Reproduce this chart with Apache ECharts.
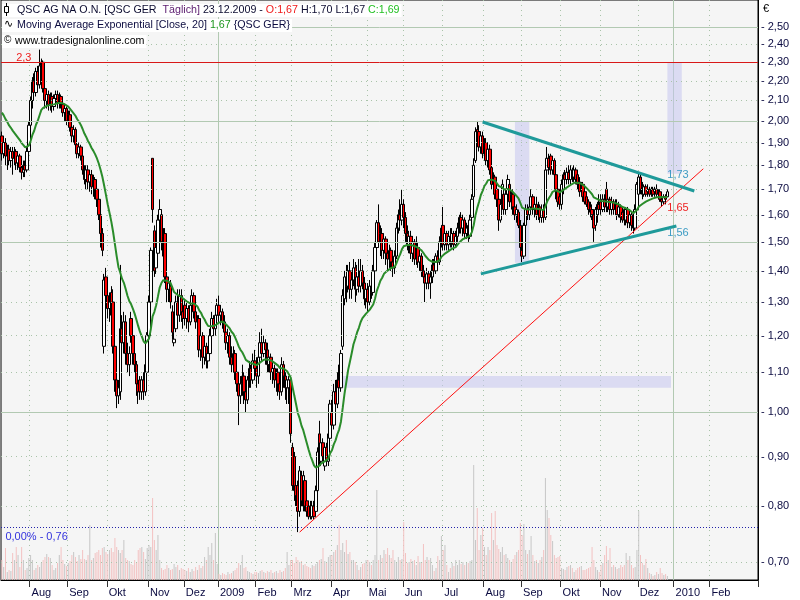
<!DOCTYPE html>
<html><head><meta charset="utf-8">
<script src="https://cdn.jsdelivr.net/npm/echarts@6/dist/echarts.min.js"></script>
<style>html,body{margin:0;padding:0;background:#fff}#c{width:800px;height:600px}</style>
</head><body><div id="c"></div>
<script>
// ---- Daily candles [open, close, low, high] (QSC AG, Xetra) ----
const jul08=[[1.93,1.85,1.82,1.95],[1.85,1.90,1.83,1.93],[1.90,1.84,1.80,1.92],[1.84,1.87,1.78,1.89],[1.87,1.82,1.80,1.89],[1.82,1.86,1.79,1.88],[1.86,1.83,1.76,1.88],[1.83,1.86,1.80,1.88],[1.86,1.81,1.78,1.87],[1.81,1.84,1.78,1.86],[1.84,1.79,1.77,1.85],[1.79,1.77,1.74,1.81],[1.77,1.80,1.75,1.82],[1.80,1.78,1.75,1.82],[1.78,1.86,1.77,1.88],[1.86,1.98,1.85,2.00]];
const aug08=[[1.98,2.10,1.96,2.12],[2.10,2.20,2.06,2.22],[2.20,2.14,2.10,2.24],[2.14,2.25,2.12,2.27],[2.25,2.18,2.15,2.28],[2.18,2.28,2.16,2.37],[2.28,2.30,2.22,2.32],[2.30,2.16,2.14,2.31],[2.16,2.10,2.06,2.18],[2.10,2.13,2.06,2.15],[2.13,2.08,2.05,2.15],[2.08,2.12,2.05,2.14],[2.12,2.07,2.04,2.14],[2.07,2.11,2.05,2.13],[2.11,2.13,2.07,2.15],[2.13,2.09,2.06,2.15],[2.09,2.12,2.06,2.14],[2.12,2.08,2.06,2.13],[2.08,2.04,2.02,2.10],[2.04,2.06,2.00,2.08],[2.06,2.00,1.98,2.07]];
const sep08=[[2.00,2.03,1.97,2.05],[2.03,1.97,1.95,2.05],[1.97,1.93,1.90,2.00],[1.93,1.96,1.90,1.98],[1.96,1.89,1.87,1.97],[1.89,1.85,1.83,1.91],[1.85,1.88,1.83,1.90],[1.88,1.84,1.82,1.89],[1.84,1.78,1.76,1.85],[1.78,1.74,1.72,1.80],[1.74,1.78,1.70,1.80],[1.78,1.73,1.70,1.80],[1.73,1.76,1.69,1.78],[1.76,1.71,1.68,1.78],[1.71,1.74,1.67,1.76],[1.74,1.70,1.66,1.75],[1.70,1.66,1.63,1.72],[1.66,1.60,1.58,1.68],[1.60,1.53,1.48,1.62],[1.53,1.47,1.45,1.55],[1.17,1.37,1.15,1.39],[1.38,1.32,1.30,1.41]];
const oct08=[[1.32,1.28,1.25,1.34],[1.28,1.30,1.24,1.33],[1.33,1.26,1.22,1.35],[1.30,1.17,1.15,1.34],[1.17,1.08,1.05,1.19],[1.08,1.04,1.01,1.10],[1.04,1.06,1.02,1.08],[1.05,1.22,1.03,1.42],[1.22,1.18,1.14,1.26],[1.18,1.24,1.15,1.27],[1.24,1.15,1.12,1.26],[1.15,1.12,1.10,1.18],[1.12,1.15,1.09,1.17],[1.25,1.20,1.18,1.27],[1.20,1.15,1.12,1.21],[1.15,1.12,1.10,1.17],[1.12,1.07,1.04,1.13],[1.07,1.05,1.02,1.09],[1.08,1.05,1.03,1.09],[1.05,1.08,1.03,1.09],[1.08,1.05,1.03,1.10],[1.05,1.12,1.04,1.14],[1.10,1.20,1.09,1.21]];
const nov08=[[1.20,1.30,1.18,1.32],[1.30,1.47,1.28,1.48],[1.83,1.62,1.57,1.83],[1.54,1.40,1.38,1.56],[1.41,1.48,1.39,1.50],[1.46,1.58,1.44,1.60],[1.58,1.62,1.54,1.66],[1.60,1.50,1.47,1.62],[1.52,1.45,1.43,1.55],[1.53,1.38,1.36,1.55],[1.38,1.34,1.30,1.44],[1.34,1.36,1.30,1.38],[1.35,1.30,1.28,1.37],[1.27,1.21,1.19,1.29],[1.18,1.19,1.17,1.21],[1.22,1.30,1.21,1.32],[1.30,1.26,1.24,1.34],[1.26,1.32,1.24,1.34],[1.32,1.27,1.24,1.34],[1.27,1.25,1.22,1.29]];
const dec08=[[1.29,1.25,1.23,1.31],[1.25,1.28,1.22,1.30],[1.28,1.24,1.21,1.29],[1.24,1.29,1.23,1.32],[1.29,1.32,1.27,1.34],[1.32,1.27,1.25,1.33],[1.27,1.24,1.22,1.29],[1.24,1.25,1.21,1.26],[1.25,1.16,1.14,1.26],[1.16,1.20,1.13,1.22],[1.20,1.14,1.11,1.21],[1.14,1.17,1.12,1.19],[1.17,1.13,1.11,1.18],[1.13,1.15,1.11,1.17],[1.15,1.20,1.14,1.22],[1.20,1.25,1.19,1.27],[1.25,1.22,1.20,1.26],[1.22,1.26,1.20,1.28],[1.26,1.29,1.24,1.31]];
const jan09=[[1.29,1.26,1.24,1.32],[1.26,1.27,1.23,1.29],[1.27,1.24,1.22,1.28],[1.24,1.21,1.19,1.26],[1.21,1.18,1.16,1.23],[1.18,1.20,1.15,1.22],[1.20,1.14,1.12,1.21],[1.14,1.12,1.10,1.17],[1.12,1.15,1.10,1.17],[1.15,1.10,1.08,1.16],[1.10,1.07,1.05,1.12],[1.07,1.04,0.97,1.09],[1.04,1.07,1.02,1.09],[1.07,1.09,1.04,1.12],[1.09,1.05,1.02,1.10],[1.05,1.03,1.00,1.07],[1.03,1.08,1.02,1.09],[1.08,1.11,1.06,1.13],[1.11,1.08,1.06,1.12],[1.08,1.13,1.07,1.15],[1.13,1.11,1.09,1.16]];
const feb09=[[1.11,1.09,1.06,1.14],[1.09,1.14,1.07,1.16],[1.14,1.18,1.12,1.21],[1.18,1.15,1.13,1.22],[1.15,1.18,1.14,1.20],[1.18,1.16,1.12,1.19],[1.16,1.12,1.10,1.18],[1.12,1.14,1.10,1.16],[1.14,1.10,1.08,1.15],[1.10,1.11,1.07,1.13],[1.11,1.08,1.06,1.12],[1.08,1.10,1.05,1.11],[1.10,1.07,1.04,1.11],[1.07,1.05,1.03,1.09],[1.05,1.12,1.04,1.14],[1.12,1.09,1.06,1.13],[1.09,1.06,1.03,1.10],[1.06,1.08,1.02,1.09],[1.06,1.08,1.02,1.09],[1.08,0.95,0.93,1.09]];
const mar09=[[0.92,0.84,0.83,0.93],[0.90,0.83,0.81,0.91],[0.84,0.82,0.80,0.87],[0.84,0.79,0.752,0.85],[0.79,0.87,0.78,0.88],[0.86,0.81,0.80,0.87],[0.80,0.86,0.79,0.87],[0.85,0.80,0.79,0.86],[0.81,0.79,0.78,0.82],[0.80,0.78,0.775,0.81],[0.80,0.78,0.775,0.81],[0.78,0.80,0.775,0.81],[0.80,0.78,0.775,0.81],[0.79,0.83,0.785,0.84],[0.83,0.91,0.82,0.92],[0.95,0.89,0.88,0.98],[0.89,0.93,0.88,0.94],[0.93,0.90,0.89,0.94],[0.88,0.92,0.87,0.93],[0.92,0.89,0.88,0.93],[0.89,0.95,0.88,0.96],[0.94,1.02,0.93,1.03]];
const apr09=[[1.00,0.97,0.95,1.03],[0.97,1.05,0.96,1.07],[1.05,1.02,1.00,1.08],[1.02,1.08,1.01,1.10],[1.08,1.06,1.03,1.12],[1.06,1.15,1.05,1.16],[1.17,1.32,1.16,1.34],[1.31,1.38,1.29,1.40],[1.38,1.35,1.30,1.42],[1.35,1.40,1.33,1.42],[1.40,1.34,1.31,1.43],[1.34,1.37,1.31,1.40],[1.37,1.41,1.35,1.44],[1.41,1.34,1.30,1.43],[1.34,1.38,1.32,1.42],[1.38,1.35,1.33,1.44],[1.35,1.40,1.33,1.44],[1.40,1.36,1.34,1.42],[1.36,1.31,1.29,1.38],[1.31,1.34,1.28,1.36]];
const may09=[[1.34,1.30,1.27,1.36],[1.30,1.35,1.29,1.37],[1.35,1.33,1.31,1.37],[1.33,1.40,1.32,1.42],[1.40,1.48,1.39,1.50],[1.48,1.57,1.46,1.58],[1.57,1.50,1.48,1.64],[1.50,1.53,1.45,1.56],[1.53,1.47,1.44,1.55],[1.47,1.51,1.44,1.53],[1.51,1.46,1.42,1.52],[1.46,1.44,1.40,1.48],[1.44,1.47,1.41,1.49],[1.47,1.43,1.40,1.48],[1.43,1.41,1.38,1.45],[1.41,1.45,1.39,1.47],[1.45,1.55,1.44,1.57],[1.55,1.60,1.53,1.62],[1.60,1.58,1.54,1.66],[1.58,1.64,1.56,1.70]];
const jun09=[[1.64,1.59,1.55,1.66],[1.59,1.53,1.50,1.61],[1.53,1.49,1.47,1.56],[1.49,1.52,1.46,1.54],[1.52,1.46,1.44,1.54],[1.46,1.50,1.43,1.52],[1.50,1.44,1.42,1.51],[1.44,1.48,1.42,1.52],[1.48,1.43,1.41,1.50],[1.43,1.45,1.40,1.47],[1.45,1.40,1.38,1.46],[1.40,1.38,1.36,1.42],[1.38,1.36,1.30,1.40],[1.36,1.39,1.34,1.41],[1.39,1.36,1.34,1.40],[1.36,1.38,1.31,1.40],[1.38,1.42,1.36,1.44],[1.42,1.40,1.38,1.44],[1.40,1.45,1.39,1.46],[1.45,1.43,1.41,1.47],[1.43,1.50,1.42,1.52],[1.50,1.55,1.48,1.56]];
const jul09=[[1.56,1.49,1.47,1.63],[1.49,1.53,1.47,1.55],[1.53,1.49,1.47,1.54],[1.49,1.52,1.47,1.54],[1.52,1.50,1.48,1.55],[1.50,1.53,1.48,1.55],[1.53,1.49,1.47,1.54],[1.49,1.52,1.48,1.54],[1.52,1.55,1.50,1.57],[1.55,1.59,1.53,1.60],[1.59,1.55,1.53,1.61],[1.55,1.58,1.52,1.60],[1.58,1.53,1.51,1.59],[1.53,1.55,1.51,1.57],[1.56,1.52,1.50,1.57],[1.52,1.58,1.51,1.60],[1.59,1.66,1.58,1.68],[1.67,1.80,1.66,1.83],[1.82,1.95,1.81,1.97],[1.96,1.90,1.88,2.00],[1.95,1.88,1.86,1.98],[1.88,1.93,1.85,1.95],[1.93,1.85,1.83,1.95]];
const aug09=[[1.85,1.90,1.83,1.92],[1.90,1.82,1.80,1.92],[1.82,1.87,1.79,1.89],[1.87,1.78,1.76,1.89],[1.79,1.72,1.70,1.80],[1.72,1.74,1.68,1.77],[1.75,1.68,1.66,1.76],[1.70,1.66,1.63,1.72],[1.66,1.58,1.54,1.67],[1.58,1.64,1.57,1.66],[1.64,1.72,1.63,1.74],[1.68,1.62,1.60,1.70],[1.62,1.68,1.60,1.70],[1.68,1.74,1.66,1.76],[1.72,1.65,1.63,1.74],[1.65,1.68,1.62,1.70],[1.68,1.63,1.60,1.70],[1.63,1.60,1.58,1.65],[1.60,1.62,1.57,1.64],[1.61,1.56,1.55,1.62],[1.56,1.48,1.46,1.58]];
const sep09=[[1.47,1.45,1.43,1.50],[1.45,1.56,1.44,1.57],[1.56,1.62,1.54,1.64],[1.62,1.60,1.58,1.64],[1.60,1.63,1.58,1.66],[1.63,1.67,1.61,1.70],[1.67,1.62,1.60,1.68],[1.62,1.64,1.59,1.66],[1.64,1.60,1.58,1.67],[1.60,1.63,1.58,1.65],[1.63,1.59,1.57,1.64],[1.59,1.62,1.57,1.64],[1.62,1.59,1.57,1.64],[1.59,1.78,1.58,1.80],[1.78,1.83,1.76,1.88],[1.83,1.79,1.76,1.85],[1.84,1.78,1.76,1.85],[1.78,1.82,1.76,1.84],[1.82,1.76,1.74,1.83],[1.76,1.70,1.66,1.78],[1.70,1.65,1.63,1.72],[1.67,1.64,1.62,1.69]];
const oct09=[[1.64,1.72,1.62,1.74],[1.70,1.76,1.68,1.77],[1.76,1.74,1.72,1.78],[1.74,1.77,1.72,1.79],[1.77,1.74,1.72,1.80],[1.74,1.78,1.72,1.80],[1.78,1.75,1.73,1.79],[1.75,1.78,1.73,1.80],[1.78,1.74,1.72,1.79],[1.76,1.72,1.70,1.78],[1.73,1.69,1.67,1.75],[1.70,1.72,1.68,1.73],[1.72,1.67,1.65,1.73],[1.69,1.65,1.64,1.70],[1.67,1.64,1.63,1.69],[1.65,1.62,1.60,1.66],[1.63,1.61,1.59,1.65],[1.62,1.60,1.58,1.64],[1.60,1.55,1.50,1.62],[1.56,1.62,1.54,1.63],[1.60,1.64,1.57,1.65],[1.64,1.62,1.60,1.68]];
const nov09=[[1.65,1.62,1.60,1.68],[1.62,1.66,1.61,1.68],[1.66,1.63,1.61,1.68],[1.70,1.63,1.61,1.73],[1.63,1.66,1.61,1.67],[1.66,1.62,1.60,1.67],[1.62,1.65,1.60,1.67],[1.65,1.62,1.60,1.66],[1.62,1.64,1.60,1.66],[1.64,1.60,1.58,1.66],[1.60,1.63,1.59,1.65],[1.63,1.59,1.57,1.64],[1.61,1.58,1.57,1.62],[1.62,1.58,1.56,1.63],[1.58,1.62,1.56,1.63],[1.62,1.57,1.55,1.63],[1.57,1.60,1.55,1.62],[1.60,1.56,1.54,1.61],[1.58,1.55,1.53,1.59],[1.55,1.62,1.54,1.64],[1.62,1.72,1.60,1.73]];
const dec09=[[1.68,1.75,1.66,1.77],[1.75,1.70,1.68,1.76],[1.71,1.68,1.66,1.73],[1.68,1.71,1.67,1.72],[1.71,1.68,1.67,1.72],[1.69,1.70,1.67,1.72],[1.70,1.68,1.67,1.71],[1.68,1.70,1.67,1.71],[1.70,1.68,1.67,1.71],[1.69,1.70,1.67,1.71],[1.70,1.68,1.67,1.72],[1.68,1.69,1.66,1.70],[1.69,1.66,1.65,1.70],[1.66,1.65,1.63,1.68],[1.65,1.67,1.64,1.68],[1.67,1.66,1.64,1.68],[1.67,1.69,1.67,1.70]];

// ---- Daily volume (thousand shares) ----
const volJul08=[200,130,320,80,100,90,270,200,330,250,130,330,200,100,120,220];
const volAug08=[250,200,100,120,150,130,170,200,230,260,230,220,150,100,120,170,250,330,200,160,140];
const volSep08=[170,190,250,280,230,190,250,210,300,210,200,250,550,200,220,270,280,300,250,320,330,280];
const volOct08=[260,300,320,280,420,330,300,270,300,400,220,200,190,160,150,200,170,300,320,330,280,210,320];
const volNov08=[350,330,820,400,300,450,200,120,100,110,150,120,100,110,160,130,150,100,120,110];
const volDec08=[100,90,120,80,110,90,130,100,150,120,140,230,200,330,250,370,200,470,160];
const volJan09=[60,50,70,60,50,80,60,70,90,100,120,170,150,250,120,130,90,80,70,60,80];
const volFeb09=[80,70,90,100,80,70,90,80,100,70,80,90,70,100,80,90,120,280,150,200];
const volMar09=[200,170,230,200,180,190,150,160,140,130,120,150,140,160,180,200,210,320,190,170,230,250];
const volApr09=[250,280,300,350,550,300,370,280,400,260,280,200,200,180,150,100,130,160,170,200];
const volMay09=[200,180,150,200,250,900,200,250,220,300,260,320,250,220,300,200,180,230,200,210];
const volJun09=[580,270,170,180,210,190,200,150,240,180,180,360,200,230,200,220,150,90,120,240,200,440];
const volJul09=[300,350,150,80,120,170,140,200,150,200,160,180,150,180,170,190,200,1150,400,720,300,450,520];
const volAug09=[330,250,330,300,670,400,690,350,310,280,330,250,260,220,200,180,210,250,280,300,570];
const volSep09=[450,560,300,260,300,440,250,190,200,170,200,230,300,1020,700,620,450,390,250,220,230,240];
const volOct09=[120,110,100,130,140,150,120,80,100,120,130,140,100,100,110,120,130,330,200,130,100,80];
const volNov09=[150,170,250,340,200,320,130,150,130,110,120,150,130,150,270,200,240,150,120,130,300];
const volDec09=[690,250,170,150,210,120,70,60,40,50,80,60,120,70,50,60,40];

// ---- Axis / annotation values ----
const yTicks=[0.7,0.8,0.9,1.0,1.1,1.2,1.3,1.4,1.5,1.6,1.7,1.8,1.9,2.0,2.1,2.2,2.3,2.4,2.5];
const yMajor=[1.0,1.5,2.0,2.5];
const monthNames=['','Jan','Feb','Mrz','Apr','Mai','Jun','Jul','Aug','Sep','Okt','Nov','Dez'];
const holidays=['2008-12-24','2008-12-25','2008-12-26','2008-12-31','2009-01-01','2009-04-10','2009-04-13','2009-05-01','2009-12-24','2009-12-25','2009-12-31','2010-01-01'];
const firstDay='2008-07-10';
const slotCount=422;
const lastLabelledMonth='2010-02';
const emaSeed=2.06, emaPeriod=20;
const resistanceLevel=2.3, supportLevel=0.758;
const redTrend=[[166,0.752],[391,1.785]];
const upperTri=[[268,1.995],[386,1.693]];
const lowerTri=[[267,1.390],[376,1.558]];
const boxes=[[[286,2.0],[294,1.427]],[[371,2.3],[379,1.764]],[[187,1.09],[373,1.06]]];
const valueTags=[{i:369,v:1.757,t:'1,73',c:'#3d9cc4'},{i:369,v:1.626,t:'1,65',c:'#ee2222'},{i:369,v:1.532,t:'1,56',c:'#3d9cc4'},{i:6,v:2.326,t:'2,3',c:'#ee2222'},{i:0,v:0.743,t:'0,00% - 0,76',c:'#3333dd'}];

// ---- build ----
const FONT="'Liberation Sans', Arial, sans-serif";
const LF='10.7px '+FONT;
const ohlc=[].concat(jul08,aug08,sep08,oct08,nov08,dec08,jan09,feb09,mar09,apr09,may09,jun09,jul09,aug09,sep09,oct09,nov09,dec09);
const vols=[].concat(volJul08,volAug08,volSep08,volOct08,volNov08,volDec08,volJan09,volFeb09,volMar09,volApr09,volMay09,volJun09,volJul09,volAug09,volSep09,volOct09,volNov09,volDec09);

const cats=[];
(function(){
  let t=Date.parse(firstDay+'T00:00:00Z');
  while(cats.length<slotCount){
    const d=new Date(t); const wd=d.getUTCDay(); const s=d.toISOString().slice(0,10);
    if(wd!==0&&wd!==6&&holidays.indexOf(s)<0) cats.push(s);
    t+=86400000;
  }
})();
const monthStart=cats.map((c,i)=>i>0&&c.slice(5,7)!==cats[i-1].slice(5,7)&&c.slice(0,7)<=lastLabelledMonth);
const yearStart=cats.map((c,i)=>i>0&&c.slice(0,4)!==cats[i-1].slice(0,4));
const isMonth=(i)=>monthStart[i];
const isYear=(i)=>yearStart[i];
const fmtMonth=(v)=>{const m=+v.slice(5,7);return m===1?v.slice(0,4):monthNames[m];};
const fmtNum=(v)=>v.toFixed(2).replace('.',',');

const k=2/(emaPeriod+1);
let e=emaSeed;
const ema=ohlc.map(r=>{e=e+k*(r[1]-e);return +e.toFixed(4);});

const volData=vols.map((v,i)=>{
  const r=ohlc[i]; const up=r&&r[1]>=r[0];
  return {value:v,itemStyle:{color:up?'#c6c6c6':'#f3c2c2'}};
});

const gridLines=yTicks.map(v=>{
  const major=yMajor.indexOf(v)>=0;
  return {yAxis:v,
    lineStyle:major?{color:'#b2c9b2',width:1,type:'solid'}:{color:'#a9c3a9',width:1,type:[1,4]},
    label:{show:true,position:'end',distance:3,formatter:()=>'- '+fmtNum(v),color:'#0a0a40',fontSize:11,fontFamily:FONT}};
});

const seg=(p,style)=>[{coord:[cats[p[0][0]],p[0][1]],lineStyle:style},{coord:[cats[p[1][0]],p[1][1]]}];

const option={
  animation:false,
  backgroundColor:'#ffffff',
  textStyle:{fontFamily:FONT},
  grid:[
    {left:1,right:42,top:0,bottom:20,show:true,backgroundColor:'#f5f5f5',borderColor:'#000',borderWidth:1},
    {left:1,right:42,top:440,bottom:20,show:false}
  ],
  xAxis:[
    {type:'category',gridIndex:0,data:cats,boundaryGap:true,
     axisLine:{show:true,lineStyle:{color:'#000',width:1}},
     axisTick:{show:true,interval:isMonth,length:7,lineStyle:{color:'#333'}},
     axisLabel:{show:true,interval:isMonth,formatter:fmtMonth,align:'left',padding:[0,0,0,1],margin:7,fontSize:11,color:'#0a0a40',fontFamily:FONT},
     splitLine:{show:true,interval:isMonth,lineStyle:{color:'#a9c3a9',type:[1,4],width:1}}},
    {type:'category',gridIndex:0,data:cats,position:'top',boundaryGap:true,
     axisLine:{show:false},axisTick:{show:false},axisLabel:{show:false},
     splitLine:{show:true,interval:isYear,lineStyle:{color:'#b2c9b2',width:1,type:'solid'}}},
    {type:'category',gridIndex:1,data:cats,show:false,boundaryGap:true}
  ],
  yAxis:[
    {type:'log',logBase:10,gridIndex:0,min:0.671,max:2.667,position:'right',
     axisLine:{show:true,lineStyle:{color:'#000'}},axisTick:{show:false},axisLabel:{show:false},splitLine:{show:false}},
    {type:'value',gridIndex:1,min:0,max:1400,show:false,splitLine:{show:false}}
  ],
  graphic:[
    {type:'text',x:2,y:4,z:10,style:{text:'{a|QSC AG NA O.N. [QSC GER  }{p|Täglich]}{a| 23.12.2009 - }{r|O:1,67}{a| H:1,70 L:1,67 }{g|C:1,69}',
      font:LF,verticalAlign:'top',backgroundColor:'#ffffff',padding:[1,2,1,15],
      rich:{a:{fill:'#0c0c30',font:LF},p:{fill:'#5a1a6e',font:LF},r:{fill:'#f01818',font:LF},g:{fill:'#22c022',font:LF}}}},
    {type:'text',x:2,y:19,z:10,style:{text:'{a|Moving Average Exponential [Close, 20] }{g|1,67} {QSC GER}',
      font:LF,fill:'#0c0c40',verticalAlign:'top',backgroundColor:'#ffffff',padding:[1,2,1,15],
      rich:{a:{fill:'#0c0c40',font:LF},g:{fill:'#1e961e',font:LF}}}},
    {type:'text',x:2,y:35,z:10,style:{text:'www.tradesignalonline.com',font:LF,fill:'#000',verticalAlign:'top',backgroundColor:'#ffffff',padding:[1,2,1,13]}},
    {type:'line',z:11,shape:{x1:6.5,y1:3,x2:6.5,y2:16},style:{stroke:'#000',lineWidth:1}},
    {type:'rect',z:11,shape:{x:4.5,y:6.5,width:4,height:6},style:{fill:'#fff',stroke:'#000',lineWidth:1}},
    {type:'text',x:4,y:19,z:11,style:{text:'∿',font:'11px DejaVu Sans',fill:'#000',verticalAlign:'top'}},
    {type:'text',x:4,y:35,z:11,style:{text:'©',font:'10px '+FONT,fill:'#000',verticalAlign:'top'}},
    {type:'text',x:763,y:3,style:{text:'€',font:'11px '+FONT,fill:'#000',verticalAlign:'top'}}
  ],
  series:[
    {name:'Volume',type:'bar',xAxisIndex:2,yAxisIndex:1,data:volData,barWidth:1,silent:true,z:1},
    {name:'gridH',type:'line',xAxisIndex:0,yAxisIndex:0,data:[],silent:true,z:1,
     markLine:{silent:true,symbol:['none','none'],animation:false,data:gridLines}},
    {name:'boxes',type:'line',xAxisIndex:0,yAxisIndex:0,data:[],silent:true,z:1,
     markArea:{silent:true,itemStyle:{color:'rgba(196,196,238,0.55)'},
       data:boxes.map(b=>[{coord:[cats[b[0][0]],b[0][1]]},{coord:[cats[b[1][0]],b[1][1]]}])}},
    {name:'QSC',type:'candlestick',xAxisIndex:0,yAxisIndex:0,data:ohlc,barWidth:3,z:3,
     itemStyle:{color:'#ffffff',color0:'#ff0000',borderColor:'#000000',borderColor0:'#000000',borderWidth:1}},
    {name:'EMA20',type:'line',xAxisIndex:0,yAxisIndex:0,data:ema,showSymbol:false,z:4,
     lineStyle:{color:'#2a8c2a',width:2}},
    {name:'overlay',type:'line',xAxisIndex:0,yAxisIndex:0,data:[],silent:true,z:5,
     markLine:{silent:true,symbol:['none','none'],animation:false,label:{show:false},
       data:[
         {yAxis:resistanceLevel,lineStyle:{color:'#d81818',width:1,type:'solid'}},
         {yAxis:supportLevel,lineStyle:{color:'#2222aa',width:1,type:[1,2]}},
         seg(redTrend,{color:'#ff1010',width:1,type:'solid'}),
         seg(upperTri,{color:'#1f9a9a',width:3,type:'solid'}),
         seg(lowerTri,{color:'#1f9a9a',width:3,type:'solid'})
       ]},
     markPoint:{silent:true,symbol:'circle',symbolSize:1,itemStyle:{color:'rgba(0,0,0,0)'},
       data:valueTags.map(t=>({name:t.t,coord:[cats[t.i],t.v],
         label:{show:true,position:'right',distance:3,formatter:t.t,color:t.c,fontSize:11,fontFamily:FONT}}))}}
  ]
};
const chart=echarts.init(document.getElementById('c'),null,{renderer:'canvas'});
chart.setOption(option);
</script>
</body></html>
